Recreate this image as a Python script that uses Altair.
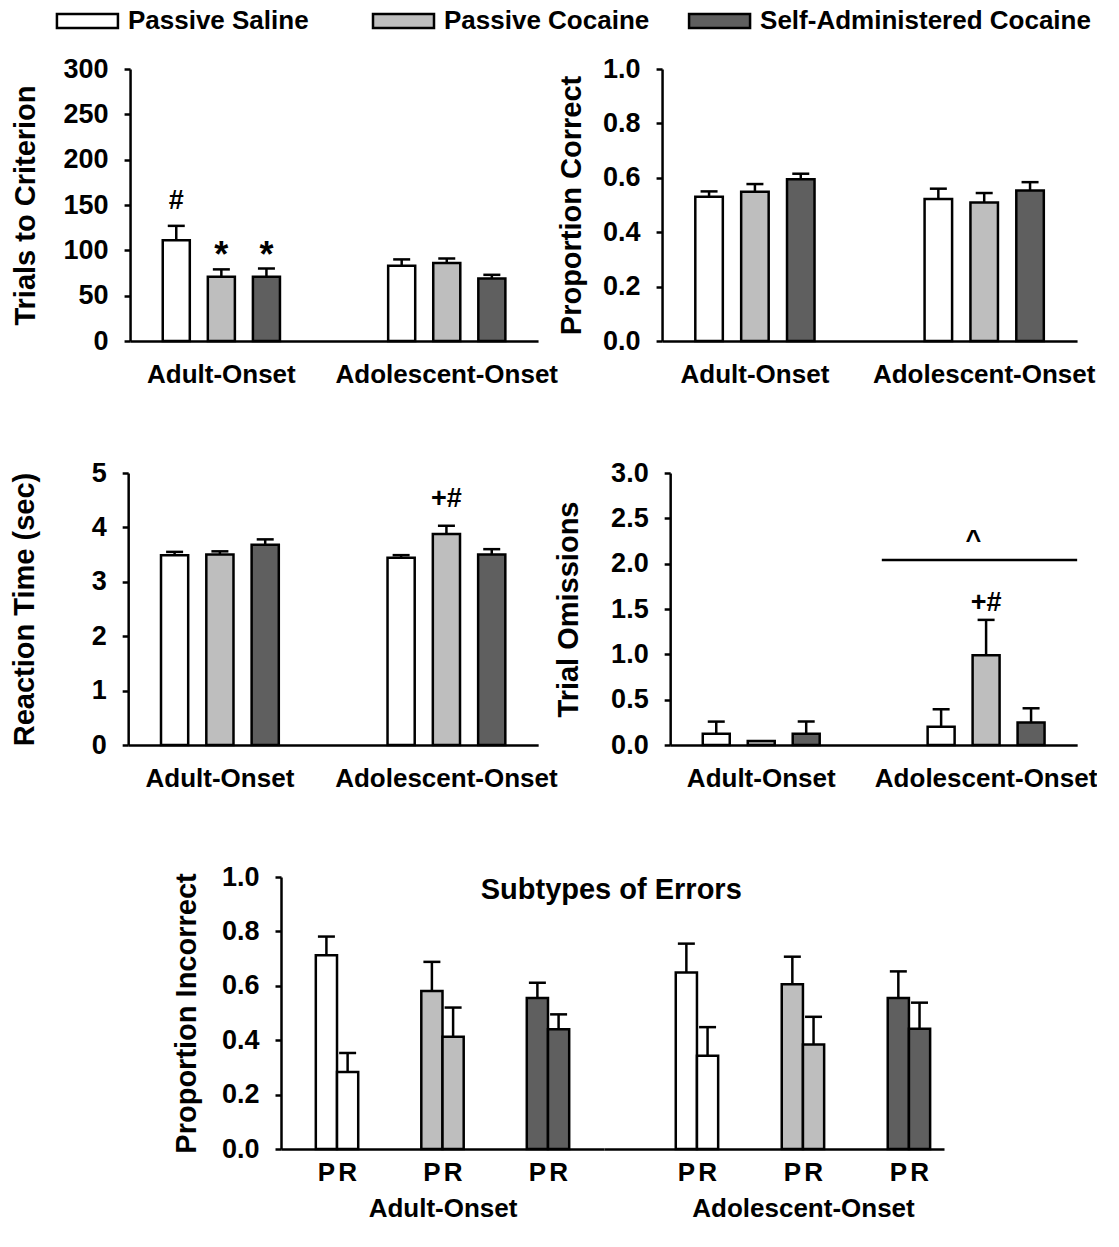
import altair as alt
import pandas as pd

FONT = "Liberation Sans"

groups = ["Adult-Onset", "Adolescent-Onset"]
treatments = ["Passive Saline", "Passive Cocaine", "Self-Administered Cocaine"]
fills = ["#FFFFFF", "#BEBEBE", "#5F5F5F"]

# order: Adult (Saline, Cocaine, Self-Admin), Adolescent (Saline, Cocaine, Self-Admin)
trials_mean = [111, 71, 71, 83, 86, 69]
trials_sem = [16, 8, 9, 7, 5, 4]
correct_mean = [0.530, 0.549, 0.595, 0.522, 0.509, 0.553]
correct_sem = [0.020, 0.028, 0.020, 0.038, 0.035, 0.031]
rt_mean = [3.49, 3.50, 3.68, 3.44, 3.88, 3.50]
rt_sem = [0.06, 0.06, 0.10, 0.05, 0.15, 0.10]
omit_mean = [0.125, 0.044, 0.125, 0.200, 0.990, 0.247]
omit_sem = [0.133, 0.0, 0.133, 0.194, 0.390, 0.158]

subtypes = ["P", "R"]
errP_mean = [0.712, 0.581, 0.555, 0.649, 0.606, 0.555]
errP_sem = [0.069, 0.107, 0.056, 0.106, 0.101, 0.098]
errR_mean = [0.283, 0.413, 0.440, 0.343, 0.384, 0.442]
errR_sem = [0.070, 0.107, 0.055, 0.105, 0.102, 0.096]

trials_ticks = [0, 50, 100, 150, 200, 250, 300]
prop_ticks = [0.0, 0.2, 0.4, 0.6, 0.8, 1.0]
rt_ticks = [0, 1, 2, 3, 4, 5]
omit_ticks = [0.0, 0.5, 1.0, 1.5, 2.0, 2.5, 3.0]

trials_marks = [("Adult-Onset", "Passive Saline", 146, "#"),
                ("Adult-Onset", "Passive Cocaine", 82, "*"),
                ("Adult-Onset", "Self-Administered Cocaine", 82, "*")]
rt_marks = [("Adolescent-Onset", "Passive Cocaine", 4.37, "+#")]
omit_marks = [("Adolescent-Onset", "Passive Cocaine", 1.48, "+#")]
omit_line_span = [0.52, 1.0]
omit_line_y = 2.04
omit_caret = ("^", 0.745, 2.16)

H = 272

color_enc = alt.Color("treatment:N", sort=treatments,
                      scale=alt.Scale(domain=treatments, range=fills), legend=None)


def yaxis(title, values, fmt, title_pad, label_pad=16):
    return alt.Axis(title=title, values=values, format=fmt, grid=False,
                    tickSize=6, tickWidth=2.5, tickColor="black",
                    domainColor="black", domainWidth=2.5,
                    labelFont=FONT, labelFontWeight="bold", labelFontSize=27,
                    labelColor="black", labelPadding=label_pad,
                    titleFont=FONT, titleFontWeight="bold", titleFontSize=29,
                    titleColor="black", titlePadding=title_pad)


def xaxis(label_pad=20):
    return alt.Axis(title=None, labelAngle=0, ticks=False, tickSize=0,
                    domainColor="black", domainWidth=2.5, labelLimit=600,
                    labelFont=FONT, labelFontWeight="bold", labelFontSize=26,
                    labelColor="black", labelPadding=label_pad)


def make_df(means, sems):
    rows = []
    i = 0
    for g in groups:
        for t in treatments:
            rows.append(dict(group=g, treatment=t, mean=means[i], sem=sems[i],
                             upper=means[i] + sems[i]))
            i += 1
    return pd.DataFrame(rows)


def text_layer(df, x, xo, y):
    return alt.Chart(df).mark_text(font=FONT, fontWeight="bold", baseline="alphabetic",
                                   color="black").encode(
        x=x, xOffset=xo, y=y, text="label:N",
        size=alt.condition(alt.datum.label == "*", alt.value(36), alt.value(27)))


def panel(means, sems, ytitle, ymax, ticks, fmt, width, title_pad,
          marks=None, sig=False):
    df = make_df(means, sems)
    x = alt.X("group:N", sort=groups,
              scale=alt.Scale(domain=groups, paddingInner=0.48, paddingOuter=0.145),
              axis=xaxis())
    xo = alt.XOffset("treatment:N", sort=treatments,
                     scale=alt.Scale(domain=treatments, paddingInner=0.4, paddingOuter=0))
    ysc = alt.Scale(domain=[0, ymax], nice=False, zero=True)
    ax = yaxis(ytitle, ticks, fmt, title_pad)

    edf = df[df["sem"] > 0]
    rule = alt.Chart(edf).mark_rule(color="black", strokeWidth=2.5).encode(
        x=x, xOffset=xo, y=alt.Y("mean:Q", scale=ysc, axis=ax), y2="upper:Q")
    cap = alt.Chart(edf).mark_tick(color="black", orient="horizontal", size=17,
                                   thickness=2.5, opacity=1).encode(
        x=x, xOffset=xo, y=alt.Y("upper:Q", scale=ysc, axis=ax))
    bars = alt.Chart(df).mark_bar(stroke="black", strokeWidth=2.5, opacity=1).encode(
        x=x, xOffset=xo, y=alt.Y("mean:Q", scale=ysc, axis=ax), color=color_enc)
    layers = [rule, cap, bars]
    if marks:
        mdf = pd.DataFrame(marks, columns=["group", "treatment", "y", "label"])
        layers.append(text_layer(mdf, x, xo, alt.Y("y:Q", scale=ysc, axis=ax)))
    chart = alt.layer(*layers)
    if sig:
        ldf = pd.DataFrame({"x0": [omit_line_span[0]], "x1": [omit_line_span[1]],
                            "y": [omit_line_y]})
        xs = alt.Scale(domain=[0, 1], nice=False, zero=False)
        line = alt.Chart(ldf).mark_rule(color="black", strokeWidth=2.5).encode(
            x=alt.X("x0:Q", scale=xs, axis=None), x2="x1:Q",
            y=alt.Y("y:Q", scale=ysc, axis=ax))
        cdf = pd.DataFrame({"label": [omit_caret[0]], "x": [omit_caret[1]],
                            "y": [omit_caret[2]]})
        caret = alt.Chart(cdf).mark_text(font=FONT, fontWeight="bold", fontSize=27,
                                         baseline="alphabetic", color="black").encode(
            x=alt.X("x:Q", scale=xs, axis=None),
            y=alt.Y("y:Q", scale=ysc, axis=ax), text="label:N")
        chart = alt.layer(chart, line, caret).resolve_scale(x="independent")
    return chart.properties(width=width, height=H)


def errors_df(group):
    rows = []
    gi = groups.index(group)
    for ti, t in enumerate(treatments):
        i = gi * 3 + ti
        rows.append(dict(treatment=t, subtype="P", mean=errP_mean[i],
                         upper=errP_mean[i] + errP_sem[i]))
        rows.append(dict(treatment=t, subtype="R", mean=errR_mean[i],
                         upper=errR_mean[i] + errR_sem[i]))
    return pd.DataFrame(rows)


def errors_half(group, width, p_inner, p_outer, align, show_y, title_x=None):
    df = errors_df(group)
    axis_kw = dict(labels=False, ticks=False, tickSize=0, domainColor="black",
                   domainWidth=2.5, title=group, titleFont=FONT, titleFontWeight="bold",
                   titleFontSize=26, titleColor="black", titlePadding=46)
    if title_x is not None:
        axis_kw["titleX"] = title_x
    x = alt.X("treatment:N", sort=treatments,
              scale=alt.Scale(domain=treatments, paddingInner=p_inner,
                              paddingOuter=p_outer, align=align),
              axis=alt.Axis(**axis_kw))
    xo = alt.XOffset("subtype:N", sort=subtypes,
                     scale=alt.Scale(domain=subtypes, paddingInner=0, paddingOuter=0))
    ysc = alt.Scale(domain=[0, 1], nice=False, zero=True)
    ax = yaxis("Proportion Incorrect", prop_ticks, ".1f", 20) if show_y else None
    rule = alt.Chart(df).mark_rule(color="black", strokeWidth=2.5).encode(
        x=x, xOffset=xo, y=alt.Y("mean:Q", scale=ysc, axis=ax), y2="upper:Q")
    cap = alt.Chart(df).mark_tick(color="black", orient="horizontal", size=17,
                                  thickness=2.5, opacity=1).encode(
        x=x, xOffset=xo, y=alt.Y("upper:Q", scale=ysc, axis=ax))
    bars = alt.Chart(df).mark_bar(stroke="black", strokeWidth=2.5, opacity=1).encode(
        x=x, xOffset=xo, y=alt.Y("mean:Q", scale=ysc, axis=ax), color=color_enc)
    lbl = alt.Chart(df).mark_text(font=FONT, fontWeight="bold", fontSize=26,
                                  baseline="middle", color="black").encode(
        x=x, xOffset=xo, y=alt.value(H + 24), text="subtype:N")
    return alt.layer(rule, cap, bars, lbl).properties(width=width, height=H)


# legend row, drawn from the treatment list (shifted left to sit over the y-axis area)
LEG_SHIFT = -118
leg_df = pd.DataFrame({"treatment": treatments})
lx = alt.X("treatment:N", sort=treatments,
           scale=alt.Scale(type="point", domain=treatments, padding=0.245), axis=None)
leg_sym = alt.Chart(leg_df).mark_point(
    shape="M-1,-0.23H1V0.23H-1Z", size=3721, filled=True, stroke="black",
    strokeWidth=2.5, opacity=1, xOffset=LEG_SHIFT).encode(
    x=lx, y=alt.value(7),
    fill=alt.Fill("treatment:N", sort=treatments,
                  scale=alt.Scale(domain=treatments, range=fills), legend=None))
leg_txt = alt.Chart(leg_df).mark_text(
    align="left", baseline="middle", dx=40.5, xOffset=LEG_SHIFT, font=FONT,
    fontWeight="bold", fontSize=26, color="black").encode(
    x=lx, y=alt.value(7), text="treatment:N")
legend_row = alt.layer(leg_sym, leg_txt).properties(width=787, height=14)

A = panel(trials_mean, trials_sem, "Trials to Criterion", 300, trials_ticks, "d", 408, 23,
          marks=trials_marks)
B = panel(correct_mean, correct_sem, "Proportion Correct", 1.0, prop_ticks, ".1f", 415, 16)
C = panel(rt_mean, rt_sem, "Reaction Time (sec)", 5, rt_ticks, "d", 410, 52,
          marks=rt_marks)
D = panel(omit_mean, omit_sem, "Trial Omissions", 3.0, omit_ticks, ".1f", 407, 27,
          marks=omit_marks, sig=True)
E1 = errors_half("Adult-Onset", 323, 0.598, 0.33, 0.5, True)
E2 = errors_half("Adolescent-Onset", 340, 0.6, 0.404, 0.838, False, title_x=199)

row1 = alt.hconcat(A, B, spacing=124, bounds="flush").resolve_scale(xOffset="independent")
row2 = alt.hconcat(C, D, spacing=132, bounds="flush").resolve_scale(xOffset="independent")
row3 = alt.hconcat(E1, E2, spacing=0, bounds="flush").resolve_scale(
    xOffset="independent").properties(
    title=alt.TitleParams("Subtypes of Errors", font=FONT, fontWeight="bold",
                          fontSize=29, color="black", offset=-42, dx=53,
                          anchor="middle"))
rest = alt.vconcat(row1, row2, row3, spacing=72, center=True).resolve_scale(
    xOffset="independent")
chart = alt.vconcat(legend_row, rest, spacing=21).resolve_scale(
    xOffset="independent").configure_view(stroke=None).properties(
    padding={"left": 2, "top": 0, "right": 0, "bottom": 0})

chart.save("out.html", embed_options={"renderer": "svg", "actions": False})
